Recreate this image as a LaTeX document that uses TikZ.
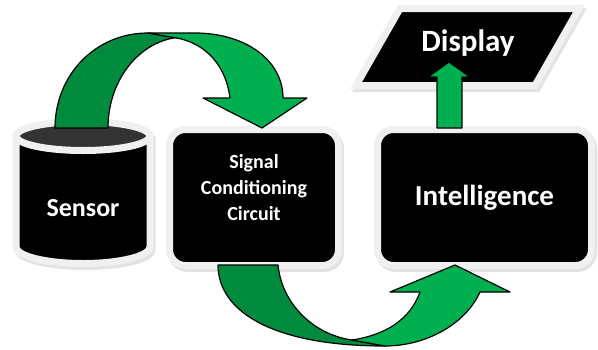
\documentclass[tikz,border=0pt]{standalone}
\usepackage{fontspec}
\setmainfont{Carlito}
\usetikzlibrary{shadows}
\definecolor{darkgreen}{RGB}{0,138,62}
\definecolor{lightgreen}{RGB}{0,176,80}
\definecolor{framegray}{RGB}{240,240,240}
\definecolor{shadowgray}{RGB}{200,200,200}
\begin{document}
\begin{tikzpicture}[x=1pt,y=-1pt]

	\tikzstyle{shell}=[fill=black,draw=framegray,line width=7pt,
		drop shadow={shadow xshift=2pt,shadow yshift=-3pt,fill=shadowgray,draw=shadowgray,line width=7pt}]
	\tikzstyle{block}=[shell,text=white,align=center]
	\tikzstyle{box}=[block,rectangle,rounded corners=16pt,minimum height=136pt]
	\tikzstyle{ribbon}=[draw=black,line width=1.2pt,line join=round]

	\useasboundingbox (0,0) rectangle (598,349);

	% sensor drum
	\draw[shell] (16,136) -- (16,247) .. controls (16,256) and (46,263.5) .. (83,263.5)
		.. controls (120,263.5) and (150,256) .. (150,247) -- (150,136) -- cycle;
	\draw[draw=framegray,line width=7pt,fill=black!80] (83,136) ellipse [x radius=67pt,y radius=14.5pt];
	\node[text=white,font=\bfseries\fontsize{26}{30}\selectfont]	(sensor)	at (83,208)	{Sensor};

	\node[box,minimum width=169pt,text height=40pt,text depth=47pt,font=\bfseries\fontsize{20}{26}\selectfont]	(signal)	at (254,197.5)
		{\begin{tabular}{@{}c@{}}Signal\\Conditioning\\Circuit\end{tabular}};
	\node[box,minimum width=214pt,font=\bfseries\fontsize{29}{34}\selectfont]	(intel)	at (484.5,197.5)	{Intelligence};

	% display screen
	\draw[shell] (400,8.5) -- (579,8.5) -- (535,85.5) -- (356,85.5) -- cycle;
	\node[text=white,font=\bfseries\fontsize{31}{36}\selectfont]	(display)	at (468,43)	{Display};

	\draw[ribbon,fill=darkgreen] (55,128) .. controls (55,75.5) and (95,33) .. (148,33) -- (185,37) .. controls (142.5,37) and (108,77.7) .. (108,128) -- cycle;
	\draw[ribbon,fill=lightgreen] (148,33) -- (195,33) .. controls (245,33) and (283,60) .. (283,98) -- (307,98) -- (262,128) -- (203,98) -- (230,98) .. controls (225,60) and (200,40) .. (170,37) -- cycle;

	\draw[ribbon,fill=darkgreen] (218,265) -- (278,265) .. controls (282,305) and (315,335) .. (352,340) -- (385,346) .. controls (270,346) and (218,310) .. (218,265) -- cycle;
	\draw[ribbon,fill=lightgreen] (352,340) -- (385,346) .. controls (425,346) and (465,325) .. (480,292) -- (510,292) -- (455,265) -- (390,292) -- (420,292) .. controls (410,320) and (385,335) .. (352,340) -- cycle;

	\draw[ribbon,fill=lightgreen] (437,128) -- (437,77) -- (428,77) -- (449,62) -- (470,77) -- (462,77) -- (462,128) -- cycle;

\end{tikzpicture}
\end{document}
